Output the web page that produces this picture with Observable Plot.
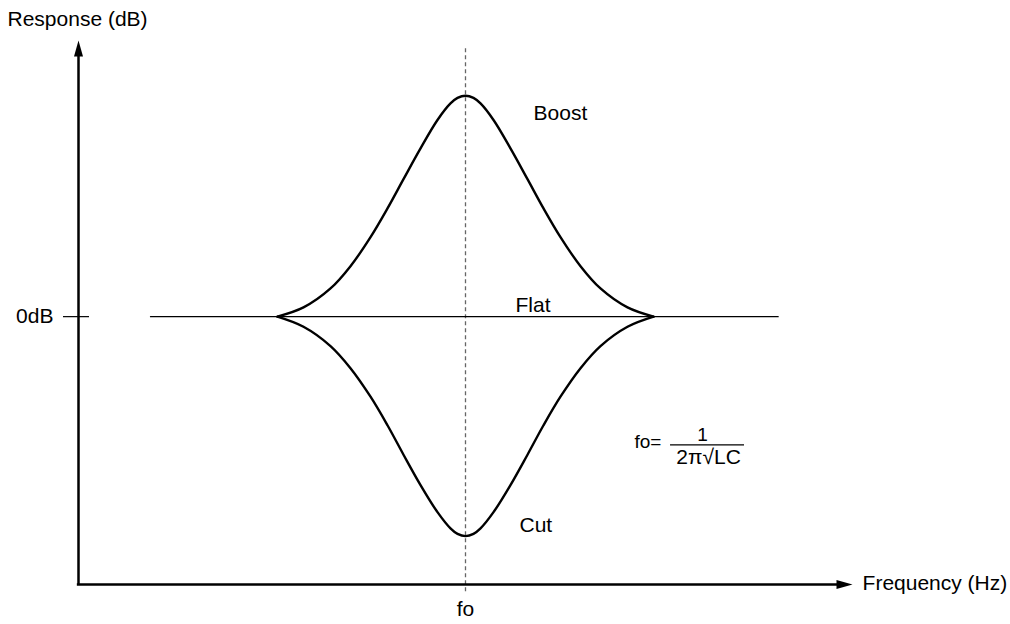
<!DOCTYPE html>
<html>
<head>
<meta charset="utf-8">
<script src="https://cdn.jsdelivr.net/npm/d3@7"></script>
<script src="https://cdn.jsdelivr.net/npm/@observablehq/plot@0.6"></script>
<style>
  html, body { margin: 0; padding: 0; background: #fff; }
  #chart svg { display: block; }
</style>
</head>
<body>
<div id="chart"></div>
<script>
// Relative frequency (fo = 50) and response in dB
const freq  = [25.7, 29.07, 32.56, 35.14, 37.73, 39.92, 41.99, 44.19, 46.38, 48.06, 48.97, 50,
               51.03, 51.94, 53.62, 55.81, 58.01, 60.08, 62.27, 64.86, 67.44, 70.93, 74.3];
const boost = [0, 0.50, 1.53, 2.74, 4.32, 5.88, 7.47, 9.14, 10.68, 11.58, 11.88, 12.0,
               11.88, 11.58, 10.68, 9.14, 7.47, 5.88, 4.32, 2.74, 1.53, 0.50, 0];
const cut   = [0, -0.55, -1.6, -2.8, -4.35, -5.9, -7.5, -9.15, -10.62, -11.5, -11.8, -11.92,
               -11.8, -11.5, -10.62, -9.15, -7.5, -5.9, -4.35, -2.8, -1.6, -0.55, 0];
const flatFreq  = [9.3, 90.4];
const flatLevel = [0, 0];
const fo = 50;
const zeroDb = 0;

const yLabel = "Response (dB)";
const xLabel = "Frequency (Hz)";
const tickLabel = "0dB";
const foLabel = "fo";
const curveLabels = ["Boost", "Flat", "Cut"];
const formulaLeft = "fo=";
const formulaNum = "1";
const formulaDen = "2π√LC";

const boostData = freq.map((f, i) => ({f, db: boost[i]}));
const cutData = freq.map((f, i) => ({f, db: cut[i]}));
const flatData = flatFreq.map((f, i) => ({f, db: flatLevel[i]}));

const xMin = 0, xMax = 100, yMin = -14.55, yMax = 15;

const arrowHead = {
  draw(context) {
    context.moveTo(0, 0);
    context.lineTo(-4.5, 16);
    context.lineTo(4.5, 16);
    context.closePath();
  }
};

const font = "'Liberation Sans', Arial, Helvetica, sans-serif";

const chart = Plot.plot({
  width: 1010,
  height: 624,
  marginLeft: 78,
  marginRight: 158,
  marginTop: 40,
  marginBottom: 40,
  x: {domain: [xMin, xMax], axis: null},
  y: {domain: [yMin, yMax], axis: null},
  style: {fontFamily: font, background: "#fff", color: "#000"},
  marks: [
    // dashed fo line
    Plot.ruleX([fo], {y1: 14.55, y2: -15.04, stroke: "#666", strokeWidth: 1.3, strokeDasharray: "4,3"}),
    // flat line
    Plot.line(flatData, {x: "f", y: "db", stroke: "#000", strokeWidth: 1.2}),
    // boost & cut
    Plot.line(boostData, {x: "f", y: "db", stroke: "#000", strokeWidth: 2.4, curve: "catmull-rom"}),
    Plot.line(cutData, {x: "f", y: "db", stroke: "#000", strokeWidth: 2.4, curve: "catmull-rom"}),
    // axes
    Plot.ruleX([xMin], {y1: yMin, y2: yMax - 0.8, stroke: "#000", strokeWidth: 2.5}),
    Plot.ruleY([yMin], {x1: xMin - 0.15, x2: xMax - 1.8, stroke: "#000", strokeWidth: 2.5}),
    Plot.dot([{f: xMin, db: yMax}], {x: "f", y: "db", symbol: arrowHead, fill: "#000", stroke: null, r: 5}),
    Plot.dot([{f: xMax, db: yMin}], {x: "f", y: "db", symbol: arrowHead, fill: "#000", stroke: null, r: 5, rotate: 90}),
    // 0dB tick
    Plot.ruleY([zeroDb], {x1: -1.94, x2: 1.42, stroke: "#000", strokeWidth: 1.2}),
    // labels
    Plot.text([yLabel], {x: -9.17, y: 16.16, textAnchor: "start", fontSize: 21, fill: "#000"}),
    Plot.text([xLabel], {x: 101.3, y: -14.46, textAnchor: "start", fontSize: 21, fill: "#000"}),
    Plot.text([tickLabel], {x: -3.23, y: zeroDb, textAnchor: "end", fontSize: 21, fill: "#000"}),
    Plot.text([foLabel], {x: fo, y: -15.87, fontSize: 21, fill: "#000"}),
    Plot.text([curveLabels[0]], {x: 58.79, y: 11.06, textAnchor: "start", fontSize: 21, fill: "#000"}),
    Plot.text([curveLabels[1]], {x: 56.46, y: 0.635, textAnchor: "start", fontSize: 21, fill: "#000"}),
    Plot.text([curveLabels[2]], {x: 56.98, y: -11.35, textAnchor: "start", fontSize: 21, fill: "#000"}),
    // formula
    Plot.text([formulaLeft], {x: 71.83, y: -6.78, textAnchor: "start", fontSize: 19, fill: "#000"}),
    Plot.text([formulaNum], {x: 80.62, y: -6.42, fontSize: 19, fill: "#000"}),
    Plot.ruleY([-6.97], {x1: 76.49, x2: 86.05, stroke: "#000", strokeWidth: 1.2}),
    Plot.text([formulaDen], {x: 81.4, y: -7.65, fontSize: 21, fill: "#000"})
  ]
});

document.getElementById("chart").appendChild(chart);
</script>
</body>
</html>
